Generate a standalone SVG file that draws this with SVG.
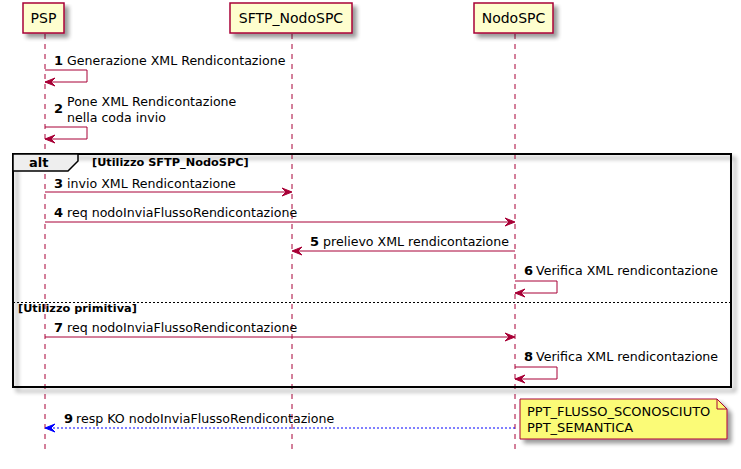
<svg xmlns="http://www.w3.org/2000/svg" width="741" height="469" viewBox="0 0 741 469">
<defs>
<filter id="sh" x="-10%" y="-10%" width="130%" height="140%">
<feGaussianBlur in="SourceAlpha" stdDeviation="2"/>
<feOffset dx="4" dy="4" result="b"/>
<feComponentTransfer><feFuncA type="linear" slope="0.4"/></feComponentTransfer>
<feMerge><feMergeNode/><feMergeNode in="SourceGraphic"/></feMerge>
</filter>
</defs>
<style>
text{font-family:"DejaVu Sans","Liberation Sans",sans-serif;fill:#000}
.p{font-size:14px;text-anchor:middle}
.m{font-size:12.6px}
.t{font-size:13px}
.n{font-size:13px;font-weight:bold}
.g{font-size:11.3px;font-weight:bold}
.box{fill:#FEFECE;stroke:#A80036;stroke-width:1.5}
.life{stroke:#A80036;stroke-width:1;stroke-dasharray:5,5;fill:none}
.msg{stroke:#A80036;stroke-width:1;fill:none}
.ah{fill:#A80036;stroke:#A80036;stroke-width:1}
.ret{stroke:#0000FF;stroke-width:1;stroke-dasharray:2,2;fill:none}
.ahb{fill:#0000FF;stroke:#0000FF;stroke-width:1}
</style>
<rect width="741" height="469" fill="#FFFFFF"/>
<g id="lifelines">
<line class="life" x1="45" y1="34" x2="45" y2="453"/>
<line class="life" x1="292" y1="34" x2="292" y2="453"/>
<line class="life" x1="515" y1="34" x2="515" y2="453"/>
</g>
<g id="PSP">
<rect class="box" x="23" y="3" width="41" height="30" filter="url(#sh)"/>
<text class="p" x="43.5" y="23">PSP</text>
</g>
<g id="SFTP_NodoSPC">
<rect class="box" x="230" y="3" width="122" height="30" filter="url(#sh)"/>
<text class="p" x="291" y="23">SFTP_NodoSPC</text>
</g>
<g id="NodoSPC">
<rect class="box" x="474" y="3" width="79" height="30" filter="url(#sh)"/>
<text class="p" x="513.5" y="23">NodoSPC</text>
</g>
<g id="alt">
<rect x="13" y="154" width="718" height="233" fill="none" stroke="#000" stroke-width="2" filter="url(#sh)"/>
<polygon points="13,154 78,154 78,161 68,171 13,171" fill="#EEEEEE" stroke="#000" stroke-width="1.5"/>
<text class="n" x="29" y="167">alt</text>
<text class="g" x="92" y="166">[Utilizzo SFTP_NodoSPC]</text>
<line x1="13" y1="302.5" x2="731" y2="302.5" stroke="#000" stroke-width="1" stroke-dasharray="2,2"/>
<text class="g" x="18" y="312">[Utilizzo primitiva]</text>
</g>
<g id="connectors">
<path class="msg" d="M45,70 H87 V82 H45"/>
<polygon class="ah" points="55,78 45,82 55,86 51,82"/>
<text class="n" x="54" y="65">1</text><text class="m" x="67" y="65">Generazione XML Rendicontazione</text>

<path class="msg" d="M45,127 H87 V139 H45"/>
<polygon class="ah" points="55,135 45,139 55,143 51,139"/>
<text class="n" x="54" y="113">2</text><text class="m" x="67" y="106">Pone XML Rendicontazione</text><text class="m" x="67" y="122">nella coda invio</text>

<line class="msg" x1="45" y1="192" x2="291" y2="192"/>
<polygon class="ah" points="282,188 292,192 282,196 286,192"/>
<text class="n" x="54" y="188">3</text><text class="m" x="67" y="188">invio XML Rendicontazione</text>

<line class="msg" x1="45" y1="222" x2="514" y2="222"/>
<polygon class="ah" points="505,218 515,222 505,226 509,222"/>
<text class="n" x="54" y="217">4</text><text class="m" x="67" y="217">req nodoInviaFlussoRendicontazione</text>

<line class="msg" x1="515" y1="251" x2="293" y2="251"/>
<polygon class="ah" points="302,247 292,251 302,255 298,251"/>
<text class="n" x="310" y="246">5</text><text class="m" x="323" y="246">prelievo XML rendicontazione</text>

<path class="msg" d="M515,281 H557 V293 H515"/>
<polygon class="ah" points="525,289 515,293 525,297 521,293"/>
<text class="n" x="524" y="275">6</text><text class="m" x="536" y="275">Verifica XML rendicontazione</text>

<line class="msg" x1="45" y1="337" x2="514" y2="337"/>
<polygon class="ah" points="505,333 515,337 505,341 509,337"/>
<text class="n" x="54" y="332">7</text><text class="m" x="67" y="332">req nodoInviaFlussoRendicontazione</text>

<path class="msg" d="M515,367 H557 V379 H515"/>
<polygon class="ah" points="525,375 515,379 525,383 521,379"/>
<text class="n" x="524" y="361">8</text><text class="m" x="536" y="361">Verifica XML rendicontazione</text>

<line class="ret" x1="515" y1="428" x2="46" y2="428"/>
<polygon class="ahb" points="55,424 45,428 55,432 51,428"/>
<text class="n" x="64" y="423">9</text><text class="m" x="76" y="423">resp KO nodoInviaFlussoRendicontazione</text>
</g>
<g id="note">
<polygon points="520,399 717,399 727,409 727,439 520,439" fill="#FBFB77" stroke="#A80036" stroke-width="1" filter="url(#sh)"/>
<path d="M717,399 V409 H727" fill="none" stroke="#A80036" stroke-width="1"/>
<text class="t" x="527" y="416">PPT_FLUSSO_SCONOSCIUTO</text>
<text class="t" x="527" y="432">PPT_SEMANTICA</text>
</g>
</svg>
